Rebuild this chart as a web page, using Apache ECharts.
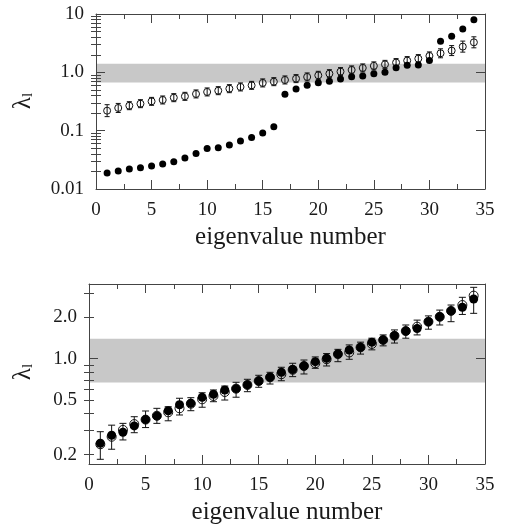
<!DOCTYPE html>
<html>
<head>
<meta charset="utf-8">
<script src="https://cdn.jsdelivr.net/npm/echarts@6/dist/echarts.min.js"></script>
<style>
  html, body { margin: 0; padding: 0; background: #fff; }
  #chart { width: 507px; height: 531px; }
</style>
</head>
<body>
<div id="chart"></div>
<script>
// Eigenvalue index along the horizontal axis
const eigenIndex = [1,2,3,4,5,6,7,8,9,10,11,12,13,14,15,16,17,18,19,20,21,22,23,24,25,26,27,28,29,30,31,32,33,34];

// Upper panel: filled markers (no error bars)
const upperFilled = [0.0188,0.0204,0.022,0.0232,0.0248,0.0268,0.0294,0.034,0.0408,0.0497,0.051,0.0568,0.0666,0.0767,0.0912,0.117,
  0.42,0.519,0.598,0.666,0.701,0.77,0.843,0.867,0.95,1.0,1.2,1.32,1.34,1.59,3.4,4.14,5.55,8.0];
// Upper panel: open markers with error bars
const upperOpen = [0.22,0.245,0.268,0.29,0.318,0.336,0.368,0.388,0.426,0.461,0.485,0.525,0.562,0.598,0.658,0.692,
  0.74,0.78,0.834,0.889,0.95,1.03,1.10,1.19,1.29,1.37,1.47,1.59,1.72,1.91,2.12,2.36,2.76,3.27];
const upperOpenLow = [0.174,0.205,0.229,0.248,0.272,0.287,0.314,0.331,0.364,0.394,0.414,0.448,0.480,0.511,0.562,0.591,
  0.632,0.666,0.712,0.759,0.811,0.880,0.939,1.016,1.102,1.170,1.255,1.358,1.469,1.631,1.776,1.938,2.220,2.631];
const upperOpenHigh = [0.279,0.293,0.314,0.340,0.372,0.393,0.431,0.454,0.499,0.540,0.568,0.615,0.658,0.700,0.771,0.810,
  0.867,0.913,0.977,1.041,1.112,1.206,1.288,1.393,1.511,1.604,1.721,1.862,2.014,2.237,2.531,2.874,3.431,4.065];

// Lower panel: filled markers
const lowerFilled = [0.242,0.277,0.291,0.324,0.36,0.383,0.418,0.462,0.473,0.523,0.551,0.592,0.605,0.644,0.688,0.732,
  0.796,0.835,0.885,0.951,1.007,1.08,1.157,1.21,1.32,1.37,1.47,1.59,1.66,1.86,2.02,2.23,2.37,2.72];
// Lower panel: open markers with error bars
const lowerOpen = [0.238,0.27,0.303,0.334,0.36,0.384,0.407,0.435,0.47,0.506,0.535,0.572,0.605,0.644,0.688,0.732,
  0.77,0.83,0.885,0.926,0.99,1.08,1.11,1.21,1.28,1.37,1.47,1.59,1.71,1.86,2.02,2.23,2.46,2.88];
const lowerOpenLow = [0.185,0.219,0.256,0.289,0.315,0.338,0.353,0.389,0.418,0.443,0.486,0.5,0.524,0.575,0.619,0.654,
  0.691,0.74,0.774,0.851,0.885,0.951,0.99,1.08,1.16,1.24,1.30,1.41,1.49,1.64,1.76,1.86,2.1,2.14];
const lowerOpenHigh = [0.294,0.328,0.338,0.378,0.416,0.435,0.447,0.515,0.52,0.565,0.592,0.632,0.673,0.708,0.757,0.796,
  0.866,0.926,0.978,1.03,1.09,1.17,1.26,1.32,1.41,1.49,1.62,1.76,1.91,2.05,2.26,2.46,2.8,3.31];

// Shaded band
const bandRange = [0.67, 1.4];

// Axis ticks and labels
const xRange = [0, 35];
const upperRange = [0.01, 10];
const upperLabelValues = [0.01, 0.1, 1, 10];
const upperLabelText = ['0.01', '0.1', '1.0', '10'];
const upperMajorTicks = [0.01, 0.1, 1, 10];
const upperMinorTicks = [0.02,0.03,0.04,0.05,0.06,0.07,0.08,0.09,0.2,0.3,0.4,0.5,0.6,0.7,0.8,0.9,2,3,4,5,6,7,8,9];
const lowerRange = [0.171, 3.5];
const lowerLabelValues = [0.2, 0.5, 1, 2];
const lowerLabelText = ['0.2', '0.5', '1.0', '2.0'];
const lowerMajorTicks = [1];
const lowerMinorTicks = [0.2,0.3,0.4,0.5,0.6,0.7,0.8,0.9,2,3];

const FONT = 'Liberation Serif';
const INK = '#1a1a1a';
const FRAME = '#444';

function pairs(xs, ys) { return xs.map((x, i) => [x, ys[i]]); }
function triples(xs, lo, hi) { return xs.map((x, i) => [x, lo[i], hi[i]]); }

function xAxes(grid) {
  const base = {
    type: 'value', gridIndex: grid, min: xRange[0], max: xRange[1], interval: 5, z: 10,
    splitLine: { show: false },
    axisLine: { show: true, onZero: false, lineStyle: { color: FRAME, width: 1 } },
    axisTick: { show: true, inside: true, length: 9, lineStyle: { color: FRAME } },
    minorTick: { show: true, splitNumber: 2, length: 5, lineStyle: { color: FRAME } },
    minorSplitLine: { show: false }
  };
  return [
    Object.assign({}, base, {
      position: 'bottom',
      axisLabel: { show: true, margin: 12, fontFamily: FONT, fontSize: 19, color: INK },
      name: 'eigenvalue number', nameLocation: 'middle', nameGap: 36,
      nameTextStyle: { fontFamily: FONT, fontSize: 25, color: INK }
    }),
    Object.assign({}, base, { position: 'top', axisLabel: { show: false } })
  ];
}

function yAxes(grid, range, labelVals, labelText, majors, minors) {
  const base = {
    type: 'log', logBase: 10, gridIndex: grid, min: range[0], max: range[1], z: 10,
    splitLine: { show: false }
  };
  const lineOn = { show: true, onZero: false, lineStyle: { color: FRAME, width: 1 } };
  const tick = (vals, len) => ({ show: true, inside: true, length: len, customValues: vals, lineStyle: { color: FRAME } });
  return [
    Object.assign({}, base, {
      position: 'left', axisLine: lineOn, axisTick: tick(majors, 9),
      axisLabel: {
        show: true, margin: 12, customValues: labelVals, fontFamily: FONT, fontSize: 19, color: INK,
        formatter: v => { const i = labelVals.findIndex(u => Math.abs(u - v) / u < 1e-6); return i >= 0 ? labelText[i] : ''; }
      }
    }),
    Object.assign({}, base, { position: 'left', axisLine: { show: false }, axisTick: tick(minors, 5), axisLabel: { show: false } }),
    Object.assign({}, base, { position: 'right', axisLine: lineOn, axisTick: tick(majors, 9), axisLabel: { show: false } }),
    Object.assign({}, base, { position: 'right', axisLine: { show: false }, axisTick: tick(minors, 5), axisLabel: { show: false } })
  ];
}

// Vertical axis title, λ with subscript l, turned to read bottom-to-top
function lambdaTitle(cx, cy) {
  return {
    type: 'text', x: cx, y: cy, rotation: Math.PI / 2, silent: true,
    style: {
      text: '{g|λ}{s|l}', align: 'center', verticalAlign: 'middle',
      rich: {
        g: { fontFamily: FONT, fontSize: 25, fill: INK, verticalAlign: 'bottom', lineHeight: 26 },
        s: { fontFamily: FONT, fontSize: 15, fill: INK, verticalAlign: 'bottom', lineHeight: 20 }
      }
    }
  };
}

function errorBars(capHalf) {
  return function (params, api) {
    const x = api.value(0);
    const hi = api.coord([x, api.value(2)]);
    const lo = api.coord([x, api.value(1)]);
    const style = { stroke: '#111', lineWidth: 1, fill: null };
    return {
      type: 'group',
      children: [
        { type: 'line', shape: { x1: hi[0], y1: hi[1], x2: lo[0], y2: lo[1] }, style },
        { type: 'line', shape: { x1: hi[0] - capHalf, y1: hi[1], x2: hi[0] + capHalf, y2: hi[1] }, style },
        { type: 'line', shape: { x1: lo[0] - capHalf, y1: lo[1], x2: lo[0] + capHalf, y2: lo[1] }, style }
      ]
    };
  };
}

function panelSeries(xi, yi, filled, open, lo, hi, size, capHalf) {
  return [
    {
      type: 'scatter', xAxisIndex: xi, yAxisIndex: yi, data: [], z: 1, silent: true,
      markArea: { silent: true, itemStyle: { color: '#c8c8c8' }, data: [[{ yAxis: bandRange[0] }, { yAxis: bandRange[1] }]] }
    },
    {
      type: 'scatter', xAxisIndex: xi, yAxisIndex: yi, data: pairs(eigenIndex, open), z: 3,
      symbol: 'circle', symbolSize: size,
      itemStyle: { color: 'rgba(255,255,255,0)', borderColor: '#111', borderWidth: 1, opacity: 1 }
    },
    {
      type: 'custom', xAxisIndex: xi, yAxisIndex: yi, data: triples(eigenIndex, lo, hi), z: 4,
      encode: { x: 0, y: [1, 2] }, renderItem: errorBars(capHalf), silent: true
    },
    {
      type: 'scatter', xAxisIndex: xi, yAxisIndex: yi, data: pairs(eigenIndex, filled), z: 5,
      symbol: 'circle', symbolSize: size, itemStyle: { color: '#000', opacity: 1 }
    }
  ];
}

const chart = echarts.init(document.getElementById('chart'), null, { renderer: 'canvas' });
chart.setOption({
  animation: false,
  backgroundColor: '#fff',
  grid: [
    { left: 96, right: 22, top: 14, height: 175 },
    { left: 89, right: 22, top: 284, height: 180 }
  ],
  xAxis: [].concat(xAxes(0), xAxes(1)),
  yAxis: [].concat(
    yAxes(0, upperRange, upperLabelValues, upperLabelText, upperMajorTicks, upperMinorTicks),
    yAxes(1, lowerRange, lowerLabelValues, lowerLabelText, lowerMajorTicks, lowerMinorTicks)
  ),
  graphic: [lambdaTitle(23, 101), lambdaTitle(23, 372)],
  series: [].concat(
    panelSeries(0, 0, upperFilled, upperOpen, upperOpenLow, upperOpenHigh, 7, 2.5),
    panelSeries(2, 4, lowerFilled, lowerOpen, lowerOpenLow, lowerOpenHigh, 9, 3.5)
  )
});
</script>
</body>
</html>
